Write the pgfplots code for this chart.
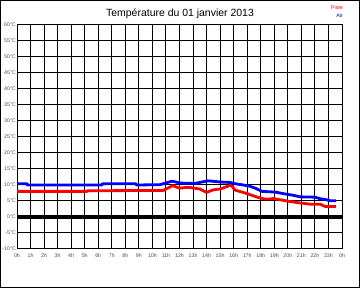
\documentclass[border=0pt]{standalone}
\usepackage{pgfplots}
\pgfplotsset{compat=1.18}
\usepackage{fontspec}
\setmainfont{Liberation Sans}
\begin{document}
\begin{tikzpicture}[x=1bp,y=1bp]
\useasboundingbox (0,0) rectangle (360,288);
\draw[black,line width=1bp] (0.5,0.5) rectangle (359.5,287.5);
\node[font=\fontsize{10.5}{12}\selectfont] at (180,274) {Température du 01 janvier 2013};
\node[anchor=east,text=red,font=\fontsize{5.3}{6}\selectfont,inner sep=0] at (343,280) {Piste};
\node[anchor=east,text=blue,font=\fontsize{5.3}{6}\selectfont,inner sep=0] at (343,272) {Air};
\begin{axis}[
  at={(17bp,39bp)}, anchor=south west,
  scale only axis, width=325bp, height=224bp,
  xmin=0, xmax=24, ymin=-10, ymax=60,
  xtick={0,1,...,24},
  xticklabels={0h,1h,2h,3h,4h,5h,6h,7h,8h,9h,10h,11h,12h,13h,14h,15h,16h,17h,18h,19h,20h,21h,22h,23h,0h},
  ytick={-10,-5,...,60},
  yticklabel={\pgfmathprintnumber{\tick}°C},
  /pgf/number format/assume math mode=true,
  ticklabel style={font=\fontsize{5.3}{6}\selectfont, text=black!70},
  major tick length=0pt,
  xticklabel style={yshift=-1bp},
  yticklabel style={inner xsep=0.8bp},
  grid=major,
  major grid style={black, line width=1bp},
  axis line style={black, line width=1bp},
]
\addplot[black, line width=3.5bp] coordinates {(0,0) (24,0)};
\addplot[red, line width=2.8bp, line join=round] coordinates {
(0,8.0) (5.17,8.0) (5.2,8.2) (10.8,8.3) (11.5,9.8) (12.0,9.0) (12.4,9.2) (12.8,9.2)
(13.5,8.75) (14.0,7.7) (14.5,8.5) (15.0,8.75) (15.5,9.5) (15.8,10.0) (16.1,8.4)
(16.85,7.5) (17.4,6.7) (17.9,6.0) (18.3,5.6) (18.7,5.6) (18.9,5.8) (19.4,5.4)
(20.2,4.8) (20.9,4.4) (21.65,4.0) (22.4,4.0) (22.75,3.3) (23.56,3.3)
};
\addplot[blue, line width=2.8bp, line join=round] coordinates {
(0,10.4) (0.74,10.4) (0.76,10.0) (6.28,10.0) (6.3,10.4) (8.79,10.4) (8.81,10.0)
(10.56,10.1) (11.45,11.2) (12.04,10.6) (13.15,10.5) (14.1,11.3) (15.14,10.9)
(15.73,10.8) (16.1,10.4) (16.7,10.0) (17.2,9.6) (17.6,9.0) (18.1,8.0) (19.05,7.8)
(19.8,7.2) (20.5,6.7) (20.9,6.3) (22.0,6.2) (22.4,5.7) (22.75,5.5) (23.1,5.1) (23.56,5.1)
};
\end{axis}
\end{tikzpicture}
\end{document}
